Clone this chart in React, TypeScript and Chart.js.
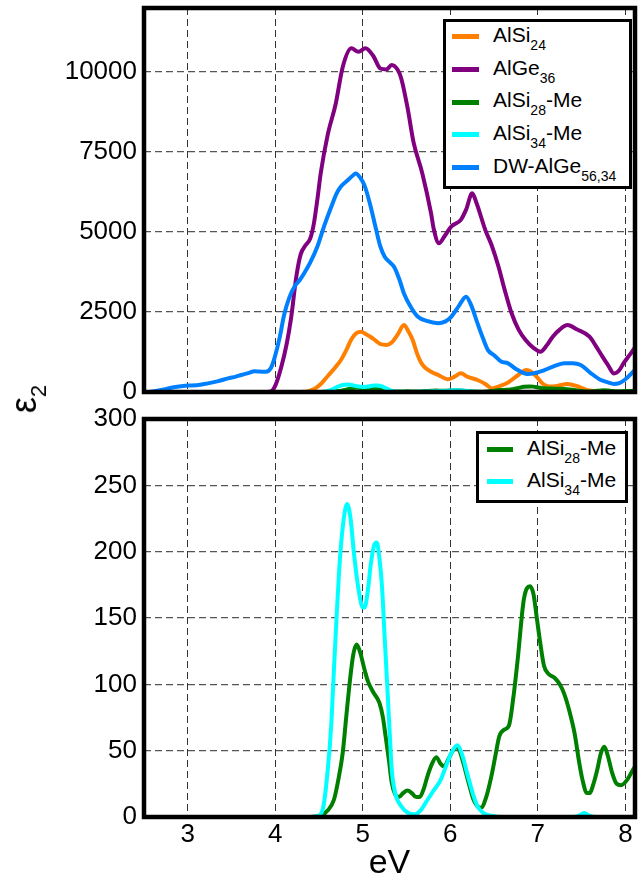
import React, { useEffect, useRef } from "react";
import { Chart, registerables } from "chart.js";

Chart.register(...registerables);

const FONT = "'Liberation Sans', Arial, Helvetica, sans-serif";

// ---- ticks ----
const xTicks = [3, 4, 5, 6, 7, 8];
const yTicksTop = [0, 2500, 5000, 7500, 10000];
const yTicksBottom = [0, 50, 100, 150, 200, 250, 300];

// ---- AlSi24 (orange) ----
const alSi24X = [4.3, 4.37, 4.45, 4.52, 4.6, 4.68, 4.75, 4.81, 4.87, 4.93, 4.98, 5.04, 5.09, 5.15, 5.2, 5.27, 5.33, 5.4, 5.47, 5.52, 5.57, 5.62, 5.67, 5.72, 5.78, 5.87, 5.97, 6.05, 6.12, 6.2, 6.31, 6.4, 6.48, 6.55, 6.66, 6.76, 6.87, 6.94, 7.0, 7.06, 7.13, 7.22, 7.34, 7.45, 7.57, 7.7, 7.85, 8.15];
const alSi24Y = [0, 20, 100, 250, 500, 750, 1000, 1300, 1650, 1850, 1885, 1800, 1720, 1600, 1500, 1470, 1550, 1800, 2090, 1900, 1625, 1200, 896, 740, 635, 520, 400, 480, 583, 470, 375, 250, 110, 170, 300, 500, 690, 600, 430, 250, 170, 190, 250, 180, 60, 20, 0, 0];

// ---- AlGe36 (purple) ----
const alGe36X = [3.85, 3.95, 4.0, 4.07, 4.13, 4.18, 4.24, 4.29, 4.35, 4.4, 4.44, 4.48, 4.52, 4.6, 4.69, 4.77, 4.87, 4.95, 5.03, 5.12, 5.2, 5.27, 5.33, 5.4, 5.44, 5.51, 5.58, 5.68, 5.78, 5.81, 5.87, 5.93, 6.01, 6.12, 6.18, 6.25, 6.3, 6.4, 6.47, 6.55, 6.62, 6.7, 6.78, 6.86, 6.95, 7.03, 7.1, 7.17, 7.25, 7.34, 7.45, 7.59, 7.66, 7.74, 7.8, 7.87, 7.93, 7.98, 8.06, 8.15];
const alGe36Y = [0, 20, 200, 800, 1500, 2300, 3600, 4300, 4600, 4800, 5250, 6000, 6850, 8050, 9000, 10150, 10740, 10630, 10740, 10500, 10110, 10080, 10220, 10060, 9790, 8900, 7800, 6830, 5580, 5100, 4650, 4850, 5170, 5380, 5700, 6210, 5900, 5060, 4600, 3920, 3200, 2460, 1950, 1625, 1380, 1260, 1450, 1730, 1950, 2090, 1950, 1730, 1450, 1100, 850, 580, 680, 900, 1200, 1550];

// ---- AlSi28-Me (green) ----
const alSi28MeX = [4.4, 4.52, 4.6, 4.67, 4.72, 4.77, 4.81, 4.85, 4.89, 4.93, 4.97, 5.02, 5.06, 5.12, 5.19, 5.23, 5.26, 5.3, 5.33, 5.37, 5.41, 5.46, 5.51, 5.56, 5.61, 5.65, 5.7, 5.74, 5.79, 5.84, 5.89, 5.93, 5.98, 6.03, 6.08, 6.13, 6.2, 6.26, 6.31, 6.35, 6.41, 6.47, 6.52, 6.56, 6.62, 6.67, 6.72, 6.77, 6.84, 6.91, 6.95, 6.99, 7.03, 7.07, 7.12, 7.19, 7.25, 7.3, 7.36, 7.42, 7.47, 7.51, 7.56, 7.59, 7.64, 7.68, 7.72, 7.76, 7.8, 7.85, 7.9, 7.95, 8.02, 8.09, 8.15];
const alSi28MeY = [0, 1, 5, 13, 28, 48, 75, 101, 122, 130, 124, 111, 102, 94, 86, 75, 61, 42, 26, 17, 15, 18, 20, 18, 15, 15, 22, 31, 40, 45, 40, 38, 44, 50, 53, 45, 28, 14, 8, 7, 15, 31, 48, 61, 66, 69, 90, 119, 164, 174, 168, 149, 130, 114, 108, 105, 100, 93, 80, 63, 42, 28, 18, 18, 26, 36, 48, 53, 46, 33, 25, 24, 28, 36, 42];

// ---- AlSi34-Me (cyan) ----
const alSi34MeX = [4.4, 4.5, 4.55, 4.6, 4.64, 4.67, 4.7, 4.73, 4.77, 4.82, 4.86, 4.9, 4.95, 5.0, 5.02, 5.06, 5.09, 5.13, 5.16, 5.19, 5.22, 5.25, 5.28, 5.31, 5.33, 5.37, 5.44, 5.52, 5.59, 5.66, 5.74, 5.81, 5.89, 5.96, 6.01, 6.08, 6.13, 6.2, 6.26, 6.31, 6.38, 6.47, 6.6, 7.4, 7.47, 7.53, 7.59, 7.66, 8.15];
const alSi34MeY = [0, 1, 8, 36, 70, 111, 150, 186, 218, 236, 225, 198, 172, 158, 158, 172, 190, 205, 207, 195, 173, 135, 98, 60, 36, 18, 8, 3, 2, 5, 13, 20, 28, 40, 48, 54, 48, 31, 17, 8, 3, 1, 0, 0, 1, 3, 1, 0, 0];

// ---- DW-AlGe56,34 (blue) ----
const dwAlGeX = [2.5, 2.58, 2.7, 2.84, 3.0, 3.1, 3.23, 3.35, 3.46, 3.55, 3.61, 3.7, 3.76, 3.82, 3.89, 3.95, 3.99, 4.05, 4.1, 4.16, 4.22, 4.28, 4.33, 4.4, 4.48, 4.56, 4.64, 4.7, 4.75, 4.82, 4.88, 4.92, 4.97, 5.02, 5.08, 5.15, 5.2, 5.25, 5.31, 5.36, 5.42, 5.47, 5.55, 5.63, 5.73, 5.86, 5.94, 6.01, 6.1, 6.18, 6.24, 6.31, 6.37, 6.43, 6.5, 6.58, 6.66, 6.75, 6.88, 6.98, 7.08, 7.18, 7.3, 7.4, 7.49, 7.6, 7.72, 7.8, 7.87, 7.93, 7.99, 8.09, 8.15];
const dwAlGeY = [0, 10, 60, 146, 200, 210, 270, 340, 427, 480, 530, 600, 650, 640, 630, 750, 1050, 1700, 2400, 2950, 3300, 3500, 3710, 4050, 4540, 5200, 5790, 6200, 6420, 6600, 6750, 6830, 6700, 6450, 5900, 5100, 4550, 4230, 4050, 3900, 3500, 3080, 2650, 2350, 2220, 2150, 2200, 2350, 2700, 2980, 2700, 2150, 1700, 1310, 1150, 950, 896, 720, 560, 600, 690, 800, 896, 900, 843, 600, 375, 300, 250, 280, 375, 635, 800];

const COLORS = {
  orange: "#ff8000",
  purple: "#800080",
  green: "#008000",
  cyan: "#00ffff",
  blue: "#0080ff",
};

const toPts = (xs: number[], ys: number[]) => xs.map((x, i) => ({ x, y: ys[i] }));

const framePlugin = {
  id: "frame",
  afterDatasetsDraw(chart: any) {
    const { ctx, chartArea: a } = chart;
    ctx.save();
    ctx.strokeStyle = "#000";
    ctx.lineWidth = 4.5;
    ctx.strokeRect(a.left, a.top, a.right - a.left, a.bottom - a.top);
    ctx.restore();
  },
};

function makeConfig(
  datasets: any[],
  yMax: number,
  yTicks: number[],
  showX: boolean,
  padding: any,
  xHeight: number
): any {
  return {
    type: "line",
    data: { datasets },
    plugins: [framePlugin],
    options: {
      animation: false,
      responsive: false,
      events: [],
      layout: { padding },
      plugins: { legend: { display: false }, tooltip: { enabled: false } },
      elements: {
        point: { radius: 0 },
        line: { borderWidth: 4, cubicInterpolationMode: "monotone" },
      },
      scales: {
        x: {
          type: "linear",
          min: 2.5,
          max: 8.11,
          afterBuildTicks: (s: any) => {
            s.ticks = xTicks.map((v) => ({ value: v }));
          },
          afterFit: (s: any) => {
            s.height = xHeight;
            s.paddingLeft = 0;
            s.paddingRight = 0;
          },
          grid: { color: "#333", lineWidth: 1, drawTicks: false },
          border: { display: false, dash: [7, 4] },
          ticks: {
            display: showX,
            color: "#000",
            font: { family: FONT, size: 26 },
            padding: 2,
            autoSkip: false,
            maxRotation: 0,
            callback: (v: any) => String(v),
          },
          title: {
            display: showX,
            text: "eV",
            color: "#000",
            font: { family: FONT, size: 34, lineHeight: 1.2 },
            padding: 0,
          },
        },
        y: {
          type: "linear",
          min: 0,
          max: yMax,
          afterBuildTicks: (s: any) => {
            s.ticks = yTicks.map((v) => ({ value: v }));
          },
          afterFit: (s: any) => {
            s.width = 144;
            s.paddingTop = 0;
            s.paddingBottom = 0;
          },
          grid: { color: "#555", lineWidth: 1.3, drawTicks: false },
          border: { display: false, dash: [7, 4] },
          ticks: {
            color: "#000",
            font: { family: FONT, size: 26 },
            padding: 7,
            callback: (v: any) => String(v),
          },
        },
      },
    },
  };
}

function ChartCanvas({ config, left, top, width, height }: any) {
  const ref = useRef<HTMLCanvasElement | null>(null);
  useEffect(() => {
    if (!ref.current) return;
    const chart = new Chart(ref.current, config);
    return () => chart.destroy();
  }, []);
  return (
    <canvas
      ref={ref}
      width={width}
      height={height}
      style={{ position: "absolute", left, top, width, height }}
    />
  );
}

const line = (label: string, xs: number[], ys: number[], color: string, order: number) => ({
  label,
  data: toPts(xs, ys),
  borderColor: color,
  backgroundColor: color,
  borderWidth: 4,
  fill: false,
  order,
});

const topDatasets = [
  line("AlSi24", alSi24X, alSi24Y, COLORS.orange, 5),
  line("AlGe36", alGe36X, alGe36Y, COLORS.purple, 4),
  line("AlSi28-Me", alSi28MeX, alSi28MeY, COLORS.green, 3),
  line("AlSi34-Me", alSi34MeX, alSi34MeY, COLORS.cyan, 2),
  line("DW-AlGe56,34", dwAlGeX, dwAlGeY, COLORS.blue, 1),
];

const bottomDatasets = [
  line("AlSi28-Me", alSi28MeX, alSi28MeY, COLORS.green, 2),
  line("AlSi34-Me", alSi34MeX, alSi34MeY, COLORS.cyan, 1),
];

const topLegend = [
  { color: COLORS.orange, base: "AlSi", sub: "24", tail: "" },
  { color: COLORS.purple, base: "AlGe", sub: "36", tail: "" },
  { color: COLORS.green, base: "AlSi", sub: "28", tail: "-Me" },
  { color: COLORS.cyan, base: "AlSi", sub: "34", tail: "-Me" },
  { color: COLORS.blue, base: "DW-AlGe", sub: "56,34", tail: "" },
];

const bottomLegend = [
  { color: COLORS.green, base: "AlSi", sub: "28", tail: "-Me" },
  { color: COLORS.cyan, base: "AlSi", sub: "34", tail: "-Me" },
];

function Legend({ box, entries, firstRow, rowGap, lineLeft, lineWidth, textLeft }: any) {
  return (
    <>
      <div
        style={{
          position: "absolute",
          left: box.left,
          top: box.top,
          width: box.width,
          height: box.height,
          border: "3.5px solid #000",
          boxSizing: "border-box",
          background: "#fff",
        }}
      />
      {entries.map((e: any, i: number) => {
        const cy = firstRow + i * rowGap;
        return (
          <React.Fragment key={i}>
            <div
              style={{
                position: "absolute",
                left: lineLeft,
                top: cy - 2.5,
                width: lineWidth,
                height: 5,
                background: e.color,
              }}
            />
            <div
              style={{
                position: "absolute",
                left: textLeft,
                top: cy - 12.8,
                fontFamily: FONT,
                fontSize: 21,
                lineHeight: "21px",
                color: "#000",
                whiteSpace: "nowrap",
              }}
            >
              {e.base}
              <span style={{ fontSize: 14, verticalAlign: "-8px", lineHeight: "0" }}>{e.sub}</span>
              {e.tail}
            </div>
          </React.Fragment>
        );
      })}
    </>
  );
}

export default function App() {
  const topConfig = makeConfig(topDatasets, 12000, yTicksTop, false, { left: 0, right: 9, top: 8, bottom: 20 }, 0);
  const bottomConfig = makeConfig(bottomDatasets, 300, yTicksBottom, true, { left: 0, right: 9, top: 19, bottom: 0 }, 67);
  return (
    <div
      style={{
        position: "absolute",
        left: 0,
        top: 0,
        width: 644,
        height: 884,
        background: "#fff",
        overflow: "hidden",
      }}
    >
      <ChartCanvas config={topConfig} left={0} top={0} width={644} height={412} />
      <ChartCanvas config={bottomConfig} left={0} top={400} width={644} height={484} />
      <Legend
        box={{ left: 443, top: 19, width: 189, height: 170 }}
        entries={topLegend}
        firstRow={36.7}
        rowGap={32.7}
        lineLeft={452}
        lineWidth={27}
        textLeft={493}
      />
      <Legend
        box={{ left: 476, top: 431, width: 152, height: 72 }}
        entries={bottomLegend}
        firstRow={449.3}
        rowGap={32.4}
        lineLeft={487}
        lineWidth={26}
        textLeft={527}
      />
      <div
        style={{
          position: "absolute",
          left: 24,
          top: 399,
          transform: "translate(-50%, -50%) rotate(-90deg)",
          fontFamily: FONT,
          fontSize: 36,
          lineHeight: "36px",
          color: "#000",
          whiteSpace: "nowrap",
        }}
      >
        ε<span style={{ fontSize: 22, verticalAlign: "-10px", lineHeight: "0" }}>2</span>
      </div>
    </div>
  );
}
